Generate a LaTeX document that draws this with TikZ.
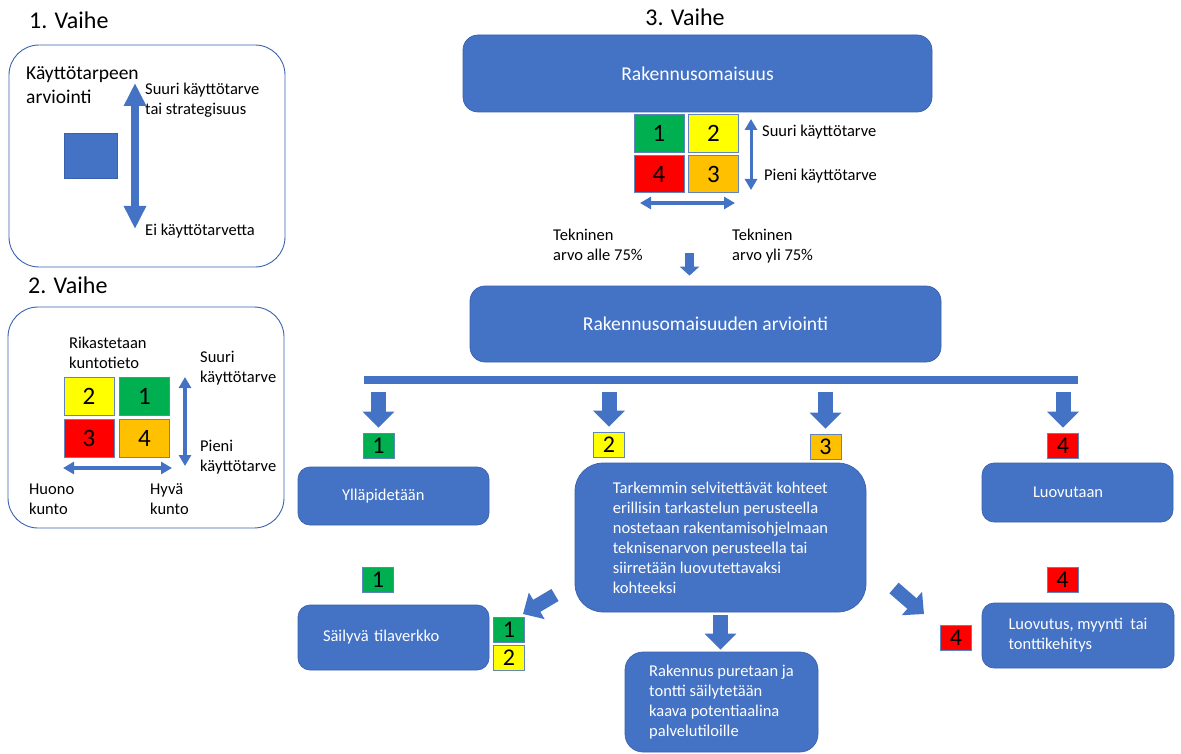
\documentclass[tikz,border=0pt]{standalone}
\usepackage{fontspec}
\setmainfont{Carlito}
\usetikzlibrary{arrows.meta,positioning}
\definecolor{boxblue}{HTML}{4472C4}
\definecolor{edgeblue}{HTML}{3A62AC}
\definecolor{sqedge}{HTML}{6283C2}
\definecolor{sqgreen}{HTML}{00B050}
\definecolor{sqyellow}{HTML}{FFFF00}
\definecolor{sqred}{HTML}{FF0000}
\definecolor{sqorange}{HTML}{FFC000}
\newcommand{\lblfont}{\fontsize{16.5}{20}\selectfont}
\tikzset{panel/.style={draw=edgeblue,line width=0.9pt,rounded corners=30pt,inner sep=0pt},
    bluebox/.style={fill=boxblue,draw=edgeblue,line width=0.7pt,rounded corners=12pt,
        text=white,font=\lblfont,align=left},
    bigtitle/.style={bluebox,align=center,rounded corners=15pt,font=\fontsize{19.6}{24}\selectfont},
    lbl/.style={anchor=west,inner sep=0pt,align=left,font=\lblfont},
    phase/.style={inner sep=0pt,font=\fontsize{24}{28}\selectfont},
    numsq/.style={draw=sqedge,line width=0.8pt,minimum width=31pt,minimum height=25pt,
        inner sep=0pt,font=\fontsize{24}{24}\selectfont},
    gridsq/.style={numsq,minimum width=50pt,minimum height=37.5pt,font=\fontsize{25}{25}\selectfont},
    blockarrow/.style={draw=boxblue,line width=15pt,-{Triangle[width=31pt,length=16pt]}},
    smallblock/.style={draw=boxblue,line width=9pt,-{Triangle[width=19pt,length=9pt]}},
    axis/.style={draw=boxblue,line width=3.5pt,{Triangle[width=12pt,length=11pt]}-{Triangle[width=12pt,length=11pt]}},
    bigaxis/.style={draw=boxblue,line width=8pt,{Triangle[width=21pt,length=23pt]}-{Triangle[width=21pt,length=23pt]}},
    }
\begin{document}
\begin{tikzpicture}[x=1pt,y=-1pt]
\useasboundingbox (0,0) rectangle (1181,754);

% 1. Vaihe
\node[phase,anchor=west] (v1) at (29,20) {1. Vaihe};
\node[panel,minimum width=276pt,minimum height=222pt] (p1) at (147,156) {};
\node[lbl,font=\fontsize{19.5}{24}\selectfont] (kta) at (26,85) {Käyttötarpeen\\arviointi};
\node[fill=boxblue,draw=edgeblue,minimum width=53pt,minimum height=45pt] (ktb) at (90.5,155.5) {};
\node[lbl] (ktsuuri) at (145,100) {Suuri käyttötarve\\tai strategisuus};
\node[lbl] (ktei) at (145,231) {Ei käyttötarvetta};
\coordinate (a1t) at (135,83);
\coordinate (a1b) at (135,229);
\draw[bigaxis] (a1b) -- (a1t);

% 2. Vaihe
\node[phase,anchor=west] (v2) at (28,285) {2. Vaihe};
\node[panel,minimum width=276pt,minimum height=221pt] (p2) at (146,417.5) {};
\node[lbl] (rik) at (69,353) {Rikastetaan\\kuntotieto};
\node[gridsq,fill=sqyellow] (b2) at (89,396.5) {2};
\node[gridsq,fill=sqgreen] (b1) at (144.5,396.5) {1};
\node[gridsq,fill=sqred] (b3) at (89,438.5) {3};
\node[gridsq,fill=sqorange] (b4) at (144.5,438.5) {4};
\node[lbl] (bsuuri) at (200,368) {Suuri\\käyttötarve};
\node[lbl] (bpieni) at (200,457) {Pieni\\käyttötarve};
\node[lbl] (bhuono) at (29,499) {Huono\\kunto};
\node[lbl] (bhyva) at (150,499) {Hyvä\\kunto};
\coordinate (a2t) at (185,377);
\coordinate (a2b) at (185,466);
\coordinate (a2l) at (63,468);
\coordinate (a2r) at (172,468);
\draw[axis] (a2b) -- (a2t);
\draw[axis] (a2l) -- (a2r);

% 3. Vaihe
\node[phase] (v3) at (685,17) {3. Vaihe};
\node[bigtitle,minimum width=469pt,minimum height=77pt] (rak) at (697.5,73.5) {Rakennusomaisuus};
\node[gridsq,fill=sqgreen] (c1) at (659,133.5) {1};
\node[gridsq,fill=sqyellow] (c2) at (713.5,133.5) {2};
\node[gridsq,fill=sqred] (c4) at (659,174) {4};
\node[gridsq,fill=sqorange] (c3) at (713.5,174) {3};
\node[lbl] (csuuri) at (762,132) {Suuri käyttötarve};
\node[lbl] (cpieni) at (764,176) {Pieni käyttötarve};
\coordinate (a3t) at (751,119);
\coordinate (a3b) at (751,190);
\coordinate (a3l) at (640,203);
\coordinate (a3r) at (735,203);
\draw[axis,line width=3pt] (a3b) -- (a3t);
\draw[axis] (a3l) -- (a3r);
\node[lbl] (tekalle) at (553,245) {Tekninen\\arvo alle 75\%};
\node[lbl] (tekyli) at (732,246) {Tekninen\\arvo yli 75\%};
\node[bigtitle,minimum width=471pt,minimum height=76pt] (arv) at (705.5,324) {Rakennusomaisuuden arviointi};
\coordinate (tekarrow) at (689.5,253);
\draw[smallblock,shorten >=10pt] (tekarrow) -- (tekarrow |- arv.north);

% jako
\node[fill=boxblue,minimum width=714pt,minimum height=8pt,inner sep=0pt] (bar) at (721,380) {};
\node[numsq,fill=sqgreen] (t1) at (378.5,445.5) {1};
\node[numsq,fill=sqyellow] (t2) at (609,444.5) {2};
\node[numsq,fill=sqorange] (t3) at (825.5,446.5) {3};
\node[numsq,fill=sqred] (t4) at (1063,445.5) {4};
\foreach \t in {t1,t2,t3,t4}
    \draw[blockarrow,shorten <=8pt,shorten >=5pt] (bar.south -| \t.north) -- (\t.north);

\node[bluebox,inner xsep=44pt,text width=103pt,minimum height=58pt] (yll) at (393.5,496) {Ylläpidetään};
\node[bluebox,rounded corners=28pt,minimum width=291pt,minimum height=149pt] (tark) at (720.5,537.5)
    {Tarkemmin selvitettävät kohteet\\erillisin tarkastelun perusteella\\nostetaan rakentamisohjelmaan\\teknisenarvon perusteella tai\\siirretään luovutettavaksi\\kohteeksi};
\node[bluebox,inner xsep=51pt,text width=89pt,minimum height=59pt] (luo) at (1077.5,492.5) {Luovutaan};

\node[numsq,fill=sqgreen] (l1) at (378,579.5) {1};
\node[numsq,fill=sqred] (l4) at (1062.5,579.5) {4};
\node[bluebox,inner xsep=25pt,text width=141pt,minimum height=65pt] (sv) at (393.5,637.5) {Säilyvä tilaverkko};
\node[numsq,fill=sqgreen] (sv1) at (509,630) {1};
\node[numsq,fill=sqyellow] (sv2) at (509,657.5) {2};
\node[bluebox,rounded corners=18pt,minimum width=193pt,minimum height=100pt] (pur) at (721.5,702)
    {Rakennus puretaan ja\\tontti säilytetään\\kaava potentiaalina\\palvelutiloille};
\node[bluebox,minimum width=192pt,minimum height=65pt] (lvs) at (1078,635.5) {Luovutus, myynti~~tai\\tonttikehitys};
\node[numsq,fill=sqred] (lv4) at (956,637.5) {4};

\coordinate (dl1) at (555,595);
\coordinate (dl2) at (523,614);
\coordinate (dr1) at (894,588);
\coordinate (dr2) at (924,614);
\draw[blockarrow,line width=14pt,-{Triangle[width=30pt,length=16pt]}] (dl1) -- (dl2);
\draw[blockarrow,line width=14pt,-{Triangle[width=30pt,length=16pt]}] (dr1) -- (dr2);
\draw[blockarrow,shorten <=3pt,shorten >=2pt] (tark.south) -- (tark.south |- pur.north);
\end{tikzpicture}
\end{document}
